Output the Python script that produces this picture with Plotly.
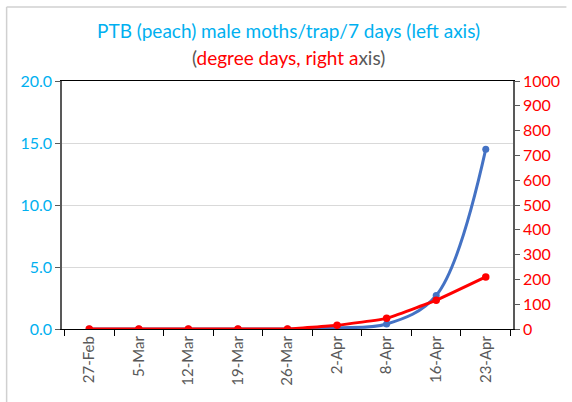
import plotly.graph_objects as go

dates = ["27-Feb", "5-Mar", "12-Mar", "19-Mar", "26-Mar", "2-Apr", "8-Apr", "16-Apr", "23-Apr"]
moths = [0, 0, 0, 0, 0, 0.1, 0.4, 2.7, 14.5]
degree_days = [0, 0, 0, 0, 0, 15, 43, 116, 210]

left_ticks = [0, 5, 10, 15, 20]
left_labels = ["0.0", "5.0", "10.0", "15.0", "20.0"]

FONT = "Lato"
BLUE_TXT = "#00B0F0"
GRAY = "#595959"

W, H = 572, 402
L, R, T, B = 62, 54, 81, 73
PW, PH = W - L - R, H - T - B

def px(x):
    return (x - L) / PW

def py(y):
    return (H - B - y) / PH

fig = go.Figure()
fig.add_trace(go.Scatter(
    x=dates, y=moths, mode="lines+markers",
    line=dict(color="#4472C4", width=3, shape="spline", smoothing=1),
    marker=dict(color="#4472C4", size=7), yaxis="y", showlegend=False))
fig.add_trace(go.Scatter(
    x=dates, y=degree_days, mode="lines+markers",
    line=dict(color="#FF0000", width=3, shape="spline", smoothing=0.35),
    marker=dict(color="#FF0000", size=7.5), yaxis="y2", showlegend=False))

fig.update_layout(
    width=W, height=H,
    margin=dict(l=L, r=R, t=T, b=B),
    paper_bgcolor="white", plot_bgcolor="white",
    font=dict(family=FONT, size=15, color=GRAY),
    xaxis=dict(type="category", tickson="boundaries", ticks="outside", ticklen=6,
               tickcolor="black", showline=True, linecolor="black", linewidth=1.2,
               mirror=True, tickangle=-90, showgrid=False,
               tickfont=dict(family=FONT, size=15, color=GRAY)),
    yaxis=dict(range=[0, 20], tickvals=left_ticks, ticktext=left_labels,
               ticks="outside", ticklen=5, tickcolor=GRAY, showline=True,
               linecolor=GRAY, linewidth=1.5, showgrid=True, gridcolor="#D9D9D9",
               zeroline=False, tickfont=dict(family=FONT, size=16, color=BLUE_TXT)),
    yaxis2=dict(range=[0, 1000], dtick=100, overlaying="y", side="right",
                ticks="outside", ticklen=5, tickcolor=GRAY, showline=True,
                linecolor=GRAY, linewidth=1.5, showgrid=False, zeroline=False,
                tickfont=dict(family=FONT, size=16, color="#FF0000")),
)

fig.add_annotation(
    text="PTB (peach) male moths/trap/7 days (left axis)",
    xref="paper", yref="paper", x=px(291.5), y=py(30), xanchor="center", yanchor="middle",
    showarrow=False, font=dict(family=FONT, size=19, color=BLUE_TXT))
fig.add_annotation(
    text="(<span style='color:#FF0000'>degree days, right a</span>xis)",
    xref="paper", yref="paper", x=px(291.5), y=py(58), xanchor="center", yanchor="middle",
    showarrow=False, font=dict(family=FONT, size=19, color=GRAY))

# chart-area border (left and top edges visible)
fig.add_shape(type="line", xref="paper", yref="paper",
              x0=px(6), x1=px(6), y0=py(7), y1=py(H),
              line=dict(color="#D0D0D0", width=1.5))
fig.add_shape(type="line", xref="paper", yref="paper",
              x0=px(6), x1=px(W), y0=py(7), y1=py(7),
              line=dict(color="#D0D0D0", width=1.5))

fig.write_html("out.html", config={"displayModeBar": False},
               post_script="document.body.style.margin='0';")
